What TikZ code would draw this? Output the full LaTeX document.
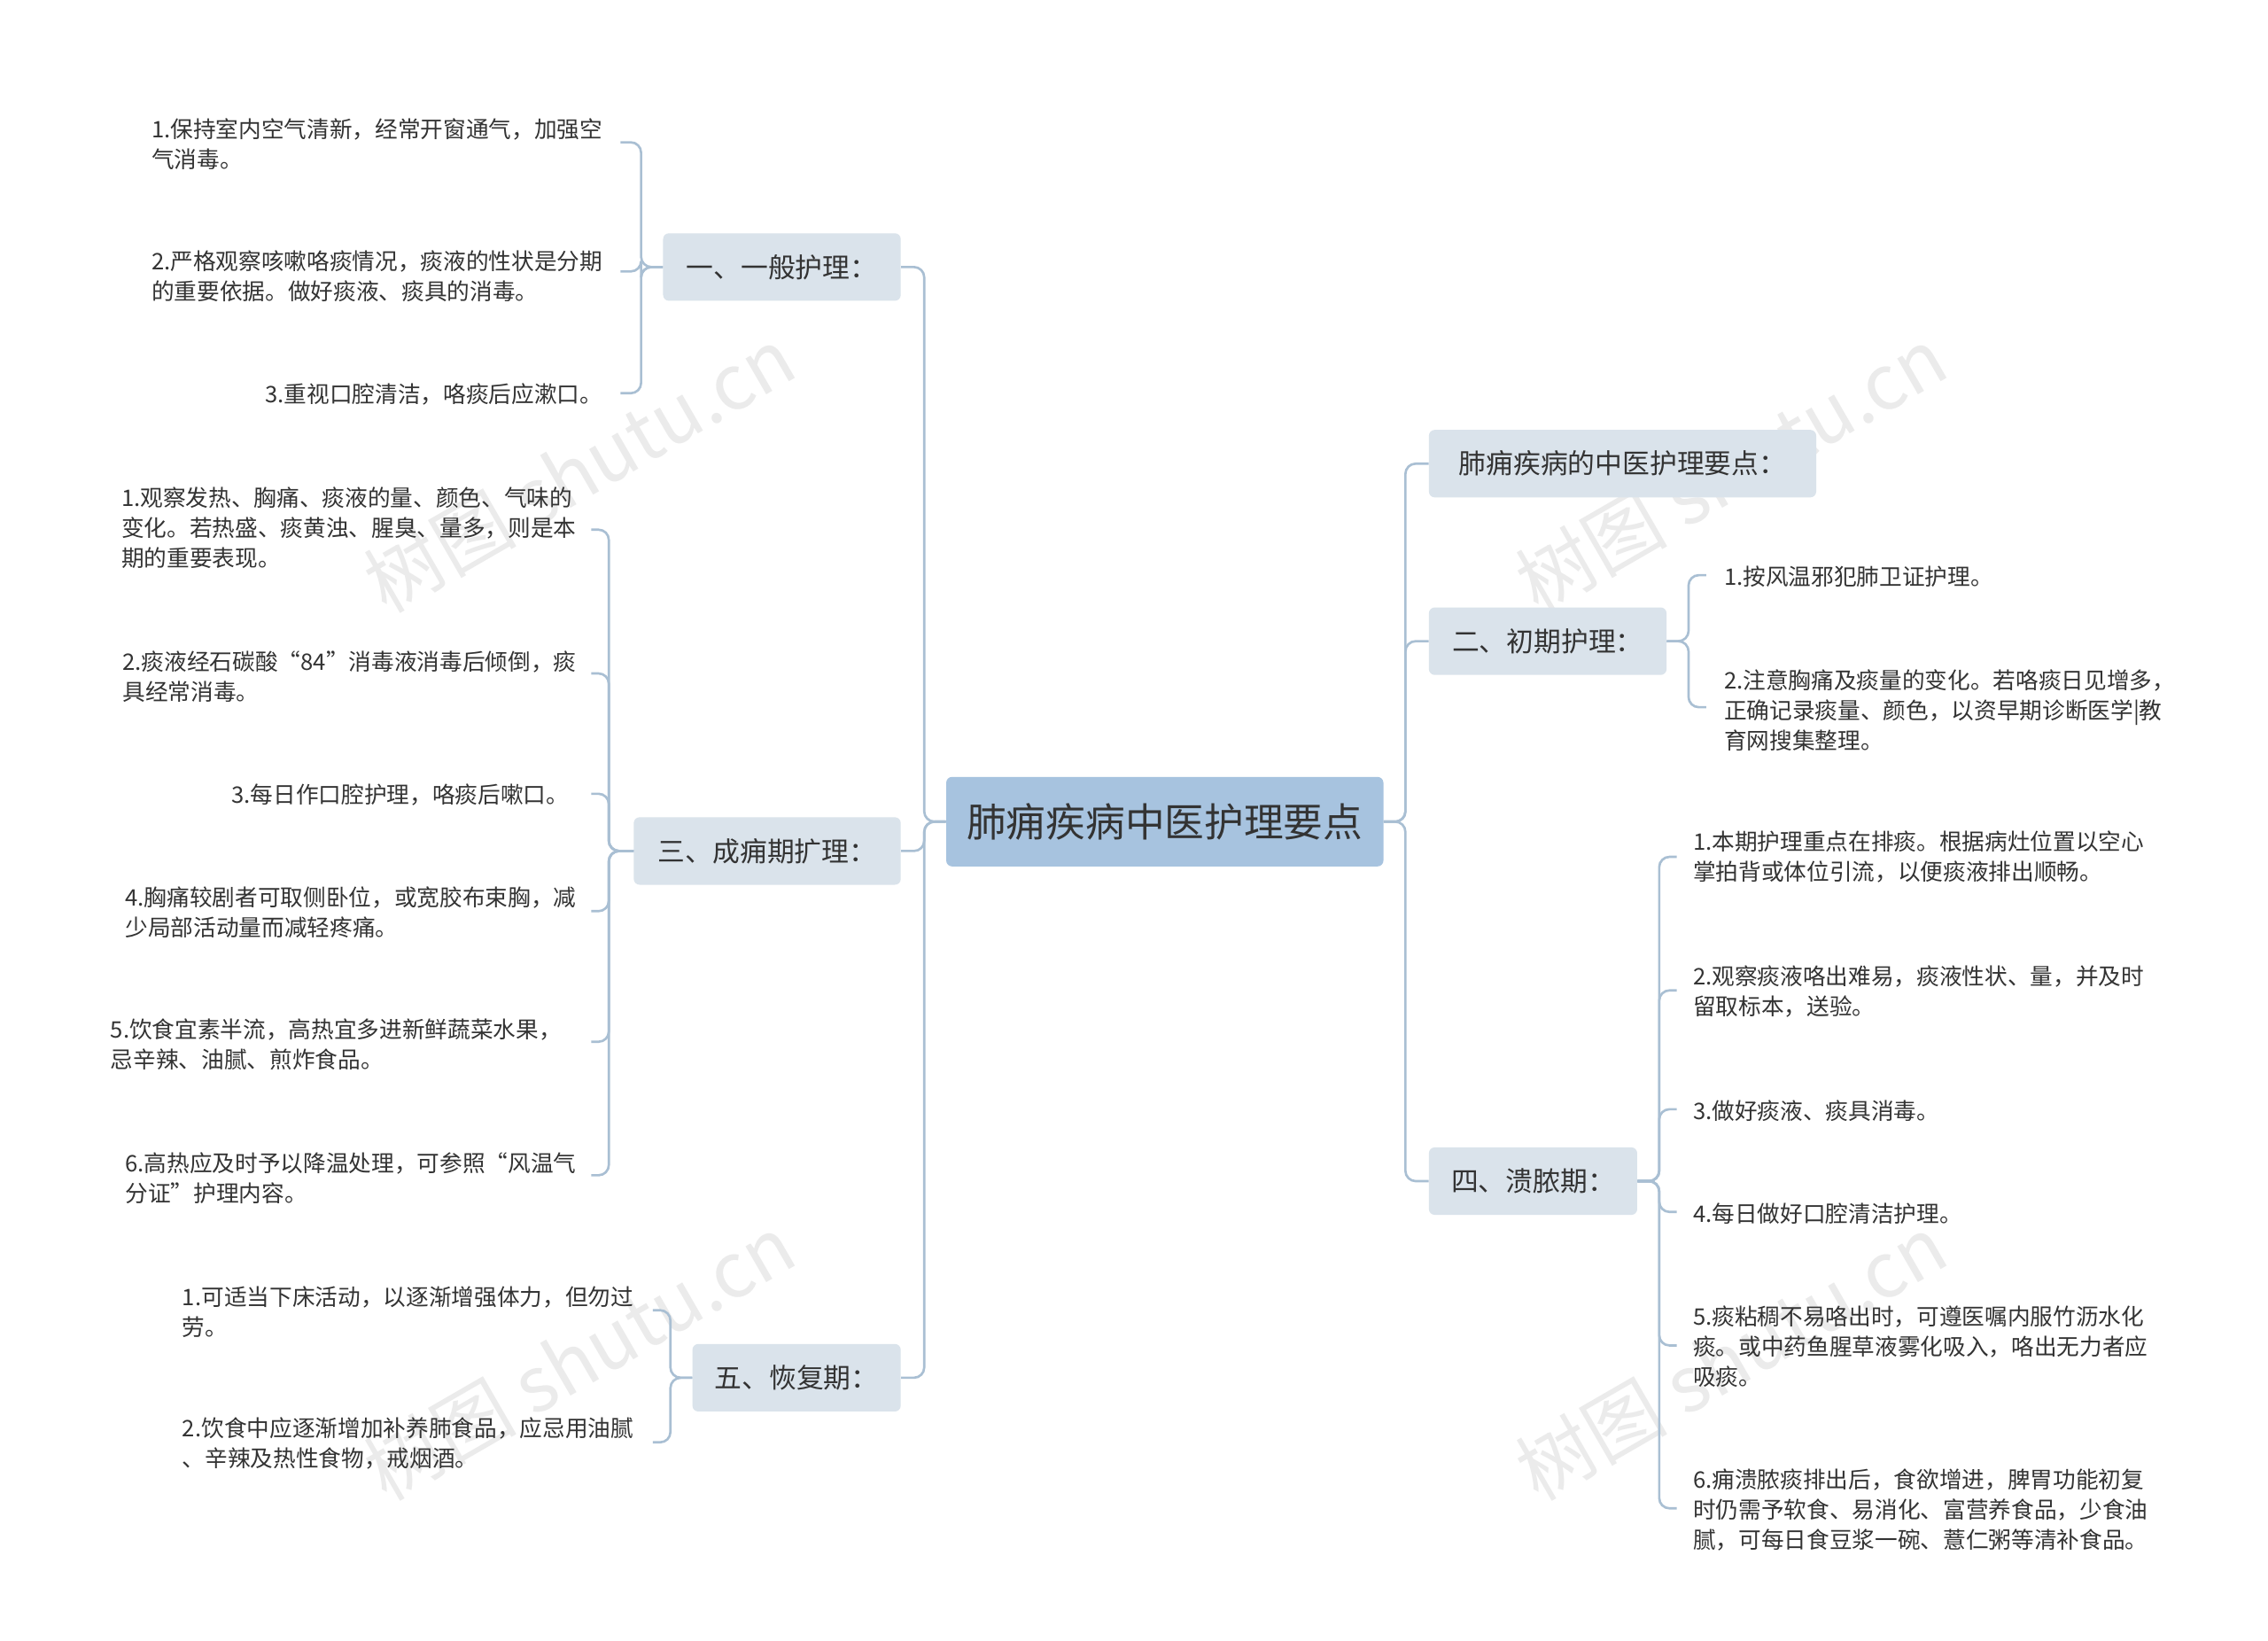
\documentclass[tikz,border=0pt]{standalone}
\usepackage{fontspec}
\setmainfont{Noto Sans CJK SC}
\begin{document}
\begin{tikzpicture}[x=1pt,y=-1pt,
  root/.style={fill=rootc,rounded corners=4pt,minimum width=298pt,minimum height=61pt,font=\fontsize{27}{32}\selectfont,text=txt},
  br/.style={fill=brc,rounded corners=4pt,minimum height=46pt,font=\fontsize{18.6}{23}\selectfont,text=txt,anchor=center},
  leafl/.style={anchor=east,align=left,font=\fontsize{15.5}{20.5}\selectfont,text=txt,inner sep=0pt},
  leafr/.style={anchor=west,align=left,font=\fontsize{15.5}{20.5}\selectfont,text=txt,inner sep=0pt},
  ln/.style={draw=linec,line width=1.6pt,rounded corners=7pt},
  wm/.style={text=wmc,rotate=30,font=\fontsize{52}{60}\selectfont}]
\definecolor{rootc}{HTML}{A7C3DF}
\definecolor{brc}{HTML}{DAE3EB}
\definecolor{txt}{HTML}{333333}
\definecolor{linec}{HTML}{A9BFD3}
\definecolor{wmc}{HTML}{EBEBEB}
\useasboundingbox[fill=white] (0,0) rectangle (1546,1118);
% watermarks
\node[wm] at (395,320) {树图 shutu.cn};
\node[wm] at (395,925) {树图 shutu.cn};
\node[wm] at (1180,320) {树图 shutu.cn};
\node[wm] at (1180,925) {树图 shutu.cn};
% root
\node[root] (root) at (794,560) {肺痈疾病中医护理要点};
% branches
\node[br,minimum width=162pt] (b1) at (533,182) {一、一般护理：};
\node[br,minimum width=182pt] (b3) at (523,580) {三、成痈期扩理：};
\node[br,minimum width=142pt] (b5) at (543,939) {五、恢复期：};
\node[br,minimum width=264pt] (r0) at (1106,316) {肺痈疾病的中医护理要点：};
\node[br,minimum width=162pt] (b2) at (1055,437) {二、初期护理：};
\node[br,minimum width=142pt] (b4) at (1045,805) {四、溃脓期：};
\foreach \b in {b1,b3,b5} \draw[ln] (root.west) -- (630,560) |- (\b.east);
\foreach \b in {r0,b2,b4} \draw[ln] (root.east) -- (958,560) |- (\b.west);
% leaves b1
\node[leafl] (l11) at (411,98) {1.保持室内空气清新，经常开窗通气，加强空\\气消毒。};
\node[leafl] (l12) at (411,188) {2.严格观察咳嗽咯痰情况，痰液的性状是分期\\的重要依据。做好痰液、痰具的消毒。};
\node[leafl] (l13) at (411,269) {3.重视口腔清洁，咯痰后应漱口。};
\foreach \y in {97,185,268} \draw[ln] (b1.west) -- (437,182) |- (423,\y);
% leaves b3
\node[leafl] (l31) at (393,360) {1.观察发热、胸痛、痰液的量、颜色、气味的\\变化。若热盛、痰黄浊、腥臭、量多，则是本\\期的重要表现。};
\node[leafl] (l32) at (393,461) {2.痰液经石碳酸“84”消毒液消毒后倾倒，痰\\具经常消毒。};
\node[leafl] (l33) at (388,542) {3.每日作口腔护理，咯痰后嗽口。};
\node[leafl] (l34) at (393,622) {4.胸痛较剧者可取侧卧位，或宽胶布束胸，减\\少局部活动量而减轻疼痛。};
\node[leafl] (l35) at (383,712) {5.饮食宜素半流，高热宜多进新鲜蔬菜水果，\\忌辛辣、油腻、煎炸食品。};
\node[leafl] (l36) at (393,803) {6.高热应及时予以降温处理，可参照“风温气\\分证”护理内容。};
\foreach \y in {361,459,541,621,710,801} \draw[ln] (b3.west) -- (415,580) |- (403,\y);
% leaves b5
\node[leafl] (l51) at (432,894) {1.可适当下床活动，以逐渐增强体力，但勿过\\劳。};
\node[leafl] (l52) at (432,984) {2.饮食中应逐渐增加补养肺食品，应忌用油腻\\、辛辣及热性食物，戒烟酒。};
\foreach \y in {893,983} \draw[ln] (b5.west) -- (457,939) |- (445,\y);
% leaves b2
\node[leafr] (l21) at (1175,393) {1.按风温邪犯肺卫证护理。};
\node[leafr] (l22) at (1175,484) {2.注意胸痛及痰量的变化。若咯痰日见增多，\\正确记录痰量、颜色，以资早期诊断医学|教\\育网搜集整理。};
\foreach \y in {392,482} \draw[ln] (b2.east) -- (1151,437) |- (1163,\y);
% leaves b4
\node[leafr] (l41) at (1154,584) {1.本期护理重点在排痰。根据病灶位置以空心\\掌拍背或体位引流，以便痰液排出顺畅。};
\node[leafr] (l42) at (1154,676) {2.观察痰液咯出难易，痰液性状、量，并及时\\留取标本，送验。};
\node[leafr] (l43) at (1154,757) {3.做好痰液、痰具消毒。};
\node[leafr] (l44) at (1154,827) {4.每日做好口腔清洁护理。};
\node[leafr] (l45) at (1154,918) {5.痰粘稠不易咯出时，可遵医嘱内服竹沥水化\\痰。或中药鱼腥草液雾化吸入，咯出无力者应\\吸痰。};
\node[leafr] (l46) at (1154,1029) {6.痈溃脓痰排出后，食欲增进，脾胃功能初复\\时仍需予软食、易消化、富营养食品，少食油\\腻，可每日食豆浆一碗、薏仁粥等清补食品。};
\foreach \y in {584,675,756,826,917,1028} \draw[ln] (b4.east) -- (1131,805) |- (1143,\y);
\end{tikzpicture}
\end{document}
